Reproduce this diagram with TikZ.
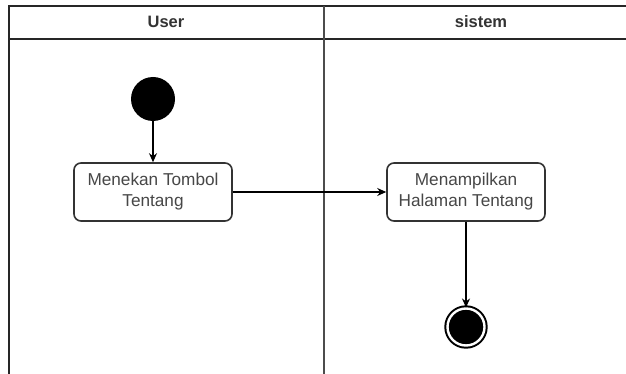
\documentclass[tikz,border=0pt]{standalone}
\usepackage{fontspec}
\setmainfont{Liberation Sans}
\usetikzlibrary{arrows.meta}
\begin{document}
\begin{tikzpicture}[x=1pt,y=-1pt,
  lane/.style={draw=black!85, line width=2pt},
  lanetitle/.style={font=\fontsize{16.5}{19}\selectfont\bfseries, text=black!80},
  action/.style={draw=black!80, line width=1.6pt, rounded corners=7pt, fill=white,
    minimum width=158pt, minimum height=58pt, inner sep=0pt, align=center,
    font=\fontsize{17.2}{21}\selectfont, text=black!72},
  flow/.style={draw=black, line width=1.5pt, -{Stealth[length=9pt,width=8pt]}},
  startdot/.style={circle, fill=black, minimum size=44pt, inner sep=0pt},
  enddot/.style={circle, fill=black, draw=black, line width=2pt, minimum size=37pt,
    inner sep=0pt, double=white, double distance=2.4pt}
]
\useasboundingbox (0,0) rectangle (626,374);

% swimlane frame
\draw[lane] (626,6) -- (9,6) -- (9,380);
\draw[lane] (9,39) -- (626,39);
\draw[lane, draw=black!70] (324,6) -- (324,380);
\node[lanetitle] (userlane) at (166,22) {User};
\node[lanetitle] (syslane) at (481,22) {sistem};

% activities
\node[startdot] (start) at (153,99) {};
\node[action] (tekan) at (153,192) {Menekan Tombol\\Tentang};
\node[action] (tampil) at (466,192) {Menampilkan\\Halaman Tentang};
\node[enddot] (stop) at (466,327) {};

% transitions
\draw[flow] (start) -- (tekan);
\draw[flow] (tekan) -- (tampil);
\draw[flow] (tampil) -- (stop);
\end{tikzpicture}
\end{document}
